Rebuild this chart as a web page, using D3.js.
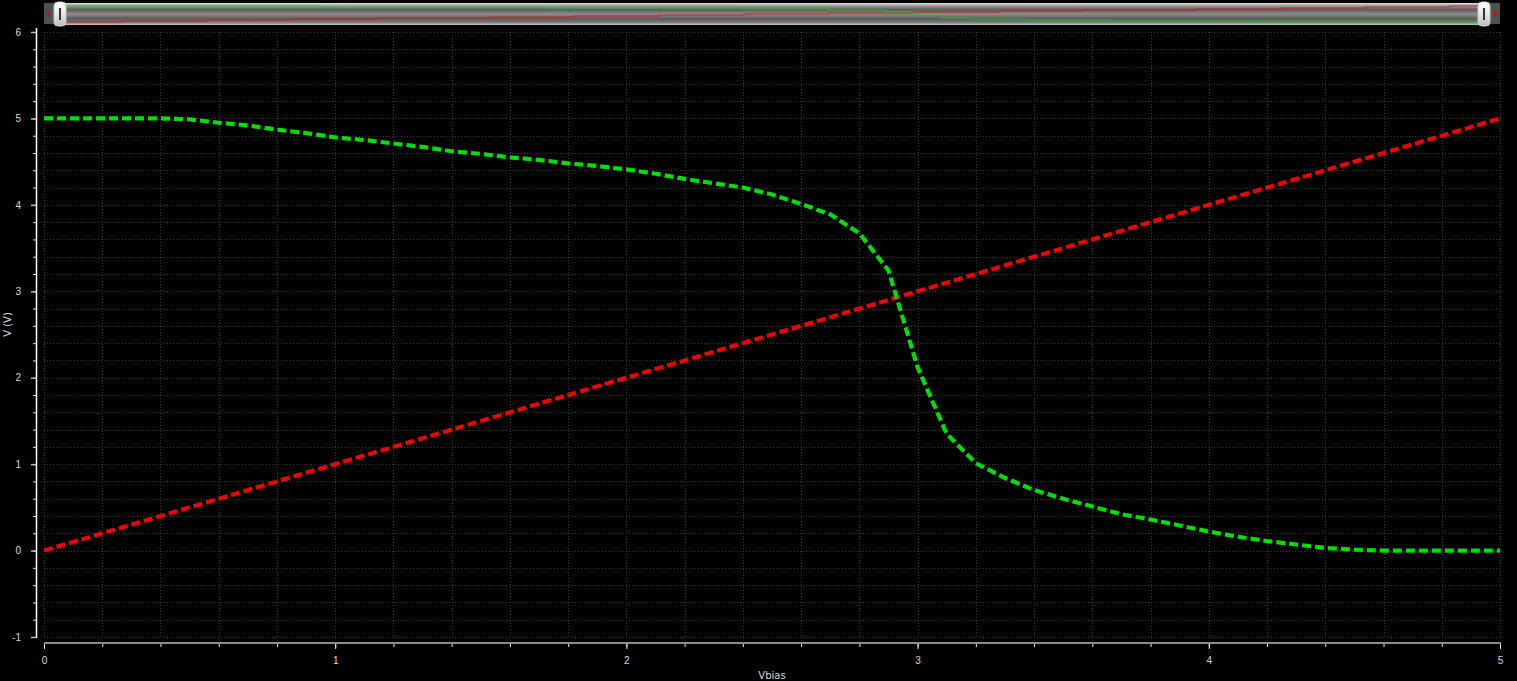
<!DOCTYPE html>
<html>
<head>
<meta charset="utf-8">
<script src="https://cdn.jsdelivr.net/npm/d3@7"></script>
<style>
  html, body { margin:0; padding:0; background:#000; }
  svg { display:block; font-family:"DejaVu Sans", sans-serif; }
  .tick text { fill:#d8d8d8; font-size:10px; }
</style>
</head>
<body>
<svg id="chart"></svg>
<script>
// sweep values (Vbias, step 0.1)
const vbias = [0.0,0.1,0.2,0.3,0.4,0.5,0.6,0.7,0.8,0.9,1.0,1.1,1.2,1.3,1.4,1.5,1.6,1.7,1.8,1.9,2.0,
  2.1,2.2,2.3,2.4,2.5,2.6,2.7,2.8,2.9,3.0,3.1,3.2,3.3,3.4,3.5,3.6,3.7,3.8,3.9,4.0,
  4.1,4.2,4.3,4.4,4.5,4.6,4.7,4.8,4.9,5.0];
// input node (follows the bias)
const vin = [0.0,0.1,0.2,0.3,0.4,0.5,0.6,0.7,0.8,0.9,1.0,1.1,1.2,1.3,1.4,1.5,1.6,1.7,1.8,1.9,2.0,
  2.1,2.2,2.3,2.4,2.5,2.6,2.7,2.8,2.9,3.0,3.1,3.2,3.3,3.4,3.5,3.6,3.7,3.8,3.9,4.0,
  4.1,4.2,4.3,4.4,4.5,4.6,4.7,4.8,4.9,5.0];
// output node (inverter transfer curve)
const vout = [5.0,5.0,5.0,5.0,5.0,4.99,4.95,4.92,4.87,4.83,4.78,4.75,4.71,4.67,4.62,4.59,4.55,4.52,4.48,4.45,4.41,
  4.36,4.30,4.25,4.20,4.12,4.01,3.89,3.67,3.24,2.12,1.35,1.01,0.84,0.70,0.60,0.51,0.42,0.36,0.29,0.22,
  0.16,0.11,0.07,0.03,0.01,0.0,0.0,0.0,0.0,0.0];

const xTicks = [0,1,2,3,4,5];
const yTicks = [-1,0,1,2,3,4,5,6];
const xLabel = 'Vbias';
const yLabel = 'V (V)';

const W = 1517, H = 681;
const margin = {top:32, right:17, bottom:44, left:44};
const width = W - margin.left - margin.right;
const height = H - margin.top - margin.bottom;

const svg = d3.select('#chart').attr('width', W).attr('height', H);

const x = d3.scaleLinear().domain([0,5]).range([0,width]);
const y = d3.scaleLinear().domain([-1,6]).range([height,0]);

const g = svg.append('g').attr('transform',`translate(${margin.left},${margin.top})`);

// grid (every 0.2)
const xMinor = d3.range(0, 5.0001, 0.2);
const yMinor = d3.range(-1, 6.0001, 0.2);
g.append('g').selectAll('line').data(xMinor).join('line')
  .attr('x1',d=>Math.round(x(d))+0.5).attr('x2',d=>Math.round(x(d))+0.5)
  .attr('y1',0).attr('y2',height)
  .attr('stroke','#383838').attr('stroke-dasharray','1,2');
g.append('g').selectAll('line').data(yMinor).join('line')
  .attr('y1',d=>Math.round(y(d))+0.5).attr('y2',d=>Math.round(y(d))+0.5)
  .attr('x1',0).attr('x2',width)
  .attr('stroke','#383838').attr('stroke-dasharray','1,2');

const fmt = d => String(d);

// y axis (offset left of plot)
const yAxisG = g.append('g').attr('transform','translate(-8,0)');
yAxisG.append('g').call(d3.axisLeft(y).tickValues(yMinor).tickSize(3).tickFormat(''))
  .call(a=>a.select('.domain').remove())
  .call(a=>a.selectAll('line').attr('stroke','#e0e0e0'));
yAxisG.append('g').call(d3.axisLeft(y).tickValues(yTicks).tickSize(5).tickPadding(10).tickFormat(fmt))
  .call(a=>a.select('.domain').remove())
  .call(a=>a.selectAll('line').attr('stroke','#bbb').attr('stroke-width',1.5));
yAxisG.append('line').attr('x1',0.5).attr('x2',0.5).attr('y1',-4).attr('y2',height+1)
  .attr('stroke','#fff').attr('stroke-width',1.5);

// x axis
const xAxisG = g.append('g').attr('transform',`translate(0,${height+6})`);
xAxisG.append('g').call(d3.axisBottom(x).tickValues(xMinor).tickSize(4).tickFormat(''))
  .call(a=>a.select('.domain').remove())
  .call(a=>a.selectAll('line').attr('stroke','#e8e8e8'));
xAxisG.append('g').call(d3.axisBottom(x).tickValues(xTicks).tickSize(6).tickPadding(8).tickFormat(fmt))
  .call(a=>a.select('.domain').remove())
  .call(a=>a.selectAll('line').attr('stroke','#e8e8e8'));
xAxisG.append('line').attr('x1',0).attr('x2',width+1).attr('y1',0).attr('y2',0)
  .attr('stroke','#8c8c8c').attr('stroke-width',2);

// axis labels
svg.append('text').attr('x', margin.left + width/2).attr('y', H - 2)
  .attr('text-anchor','middle').style('font-size','10px').style('fill','#d8d8d8').text(xLabel);
svg.append('text').attr('transform',`translate(11,${margin.top + height/2 - 10}) rotate(-90)`)
  .attr('text-anchor','middle').style('font-size','10px').style('fill','#d8d8d8').text(yLabel);

// curves
const series = [
  {name:'vin', values:vin, color:'#f00000'},
  {name:'vout', values:vout, color:'#00dd00'}
];
const line = d3.line().x(d=>x(d[0])).y(d=>y(d[1]));
g.append('g').selectAll('path').data(series).join('path')
  .attr('d', s=>line(vbias.map((v,i)=>[v, s.values[i]])))
  .attr('fill','none').attr('stroke',s=>s.color).attr('stroke-width',4.2)
  .attr('stroke-dasharray','9,4');

// --- navigator bar on top ---
const defs = svg.append('defs');
const gr = defs.append('linearGradient').attr('id','navGrad').attr('x1',0).attr('x2',0).attr('y1',0).attr('y2',1);
[[0,'#e4e4e4'],[0.1,'#a8a8a8'],[0.3,'#5c5c5c'],[0.5,'#8c8c8c'],[0.72,'#5a5a5a'],[0.88,'#7a7a7a'],[1,'#c8c8c8']]
  .forEach(([o,c])=>gr.append('stop').attr('offset',o).attr('stop-color',c));
const hg = defs.append('linearGradient').attr('id','handleGrad').attr('x1',0).attr('x2',0).attr('y1',0).attr('y2',1);
[[0,'#ffffff'],[0.5,'#e6e6e6'],[1,'#bdbdbd']].forEach(([o,c])=>hg.append('stop').attr('offset',o).attr('stop-color',c));

const nav = svg.append('g');
nav.append('rect').attr('x',60).attr('y',3).attr('width',1424).attr('height',22).attr('fill','url(#navGrad)');

const nx = d3.scaleLinear().domain([0,5]).range([66,1478]);
const ny = d3.scaleLinear().domain([0,5]).range([22,6]).interpolate(d3.interpolateRound);
const navLine = d3.line().x(d=>nx(d[0])).y(d=>ny(d[1])).curve(d3.curveStepAfter);
nav.selectAll('path.mini').data(series).join('path').attr('class','mini')
  .attr('d', s=>navLine(vbias.map((v,i)=>[v, s.values[i]])))
  .attr('fill','none').attr('stroke',s=>s.color).attr('stroke-opacity',0.75).attr('stroke-width',1.2);

// end buttons
[{bx:44, dir:-1},{bx:1490, dir:1}].forEach(b=>{
  nav.append('rect').attr('x',b.bx).attr('y',3).attr('width',10).attr('height',21).attr('fill','#505050');
  const cx = b.bx + 5;
  nav.append('path').attr('d', b.dir<0
      ? `M${cx-3},13.5 L${cx+1},11 L${cx+1},16 Z`
      : `M${cx+3},13.5 L${cx-1},11 L${cx-1},16 Z`)
    .attr('fill','#e00000');
});
// handles
[54,1478].forEach(hx=>{
  nav.append('rect').attr('x',hx).attr('y',2).attr('width',12).attr('height',24).attr('rx',4)
    .attr('fill','url(#handleGrad)').attr('stroke','#ccc');
  nav.append('rect').attr('x',hx+5).attr('y',8).attr('width',2).attr('height',12).attr('fill','#333');
});
</script>
</body>
</html>
